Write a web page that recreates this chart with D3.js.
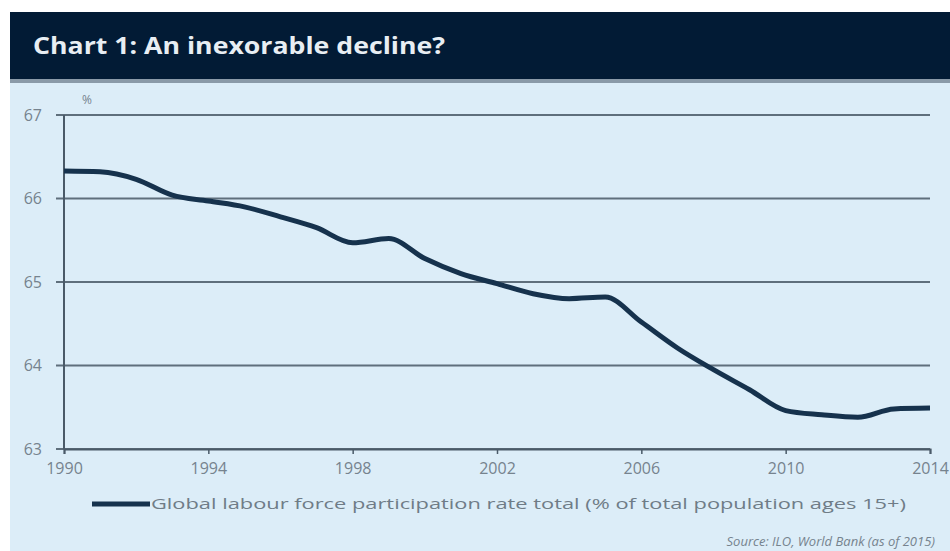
<!DOCTYPE html>
<html>
<head>
<meta charset="utf-8">
<script src="https://cdn.jsdelivr.net/npm/d3@7"></script>
<style>
  html, body { margin: 0; padding: 0; background: #ffffff; }
  svg { display: block; }
</style>
</head>
<body>
<div id="chart"></div>
<script>
// Dados (taxa de participação, % pop. 15+)
const years = [1990, 1991, 1992, 1993, 1994, 1995, 1996, 1997, 1998, 1999,
  2000, 2001, 2002, 2003, 2004, 2005, 2006, 2007, 2008, 2009,
  2010, 2011, 2012, 2013, 2014];
const rate = [66.33, 66.32, 66.23, 66.04, 65.97, 65.90, 65.78, 65.65, 65.47, 65.52,
  65.28, 65.10, 64.98, 64.86, 64.80, 64.82, 64.52, 64.21, 63.95, 63.71,
  63.46, 63.41, 63.38, 63.48, 63.49];
const yTicks = [63, 64, 65, 66, 67];
const xTicks = [1990, 1994, 1998, 2002, 2006, 2010, 2014];
const titulo = "Chart 1: An inexorable decline?";
const legenda = "Global labour force participation rate total (% of total population ages 15+)";
const fonte = "Source: ILO, World Bank (as of 2015)";

const W = 950, H = 551;
const font = "'Open Sans', 'DejaVu Sans', sans-serif";

const svg = d3.select("#chart").append("svg")
  .attr("width", W).attr("height", H);

// fundo
svg.append("rect").attr("x", 10).attr("y", 80).attr("width", W - 10).attr("height", H - 80)
  .attr("fill", "#dcedf8");
svg.append("rect").attr("x", 10).attr("y", 12).attr("width", W - 10).attr("height", 68)
  .attr("fill", "#021b35");
svg.append("rect").attr("x", 10).attr("y", 79).attr("width", W - 10).attr("height", 4)
  .attr("fill", "#8a9aa8");

svg.append("text")
  .attr("x", 33).attr("y", 54)
  .attr("font-family", font).attr("font-weight", "bold")
  .attr("font-size", "24px").attr("fill", "#e8eef3")
  .attr("textLength", 412).attr("lengthAdjust", "spacingAndGlyphs")
  .text(titulo);

const x = d3.scaleLinear().domain([1990, 2014]).range([64, 930]);
const y = d3.scaleLinear().domain([63, 67]).range([449, 115]);

// grade horizontal
svg.append("g")
  .selectAll("line")
  .data(yTicks)
  .join("line")
  .attr("x1", 56).attr("x2", 930)
  .attr("y1", d => y(d)).attr("y2", d => y(d))
  .attr("stroke", "#5f6f7c").attr("stroke-width", 2);

// eixo y
svg.append("line")
  .attr("x1", 64).attr("x2", 64).attr("y1", y(67)).attr("y2", y(63))
  .attr("stroke", "#4a5a68").attr("stroke-width", 2);

svg.append("g")
  .selectAll("text")
  .data(yTicks)
  .join("text")
  .attr("x", 42).attr("y", d => y(d))
  .attr("dy", "0.35em")
  .attr("text-anchor", "end")
  .attr("font-family", font).attr("font-size", "16px")
  .attr("fill", "#76838e")
  .text(d => d);

svg.append("text")
  .attr("x", 82).attr("y", 104)
  .attr("font-family", font).attr("font-size", "12px")
  .attr("fill", "#76838e")
  .text("%");

// eixo x
const xAxis = svg.append("g")
  .attr("transform", `translate(0,${y(63)})`)
  .call(d3.axisBottom(x).tickValues(xTicks).tickFormat(d3.format("d")).tickSize(5).tickPadding(9));
xAxis.select(".domain").attr("stroke", "#4a5a68").attr("stroke-width", 2);
xAxis.selectAll(".tick line").attr("stroke", "#4a5a68").attr("stroke-width", 1.5);
xAxis.selectAll(".tick text")
  .attr("font-family", font).attr("font-size", "16px")
  .attr("fill", "#76838e");

// série
const line = d3.line()
  .x((d, i) => x(years[i]))
  .y(d => y(d))
  .curve(d3.curveMonotoneX);

svg.append("path")
  .datum(rate)
  .attr("fill", "none")
  .attr("stroke", "#16324d")
  .attr("stroke-width", 5)
  .attr("stroke-linejoin", "round")
  .attr("d", line);

// legenda
svg.append("line")
  .attr("x1", 92).attr("x2", 150).attr("y1", 504).attr("y2", 504)
  .attr("stroke", "#16324d").attr("stroke-width", 5);
svg.append("text")
  .attr("x", 151).attr("y", 504).attr("dy", "0.35em")
  .attr("font-family", font).attr("font-size", "15px")
  .attr("fill", "#6f7c87")
  .attr("textLength", 755).attr("lengthAdjust", "spacingAndGlyphs")
  .text(legenda);

svg.append("text")
  .attr("x", 935).attr("y", 541).attr("dy", "0.35em")
  .attr("text-anchor", "end")
  .attr("font-family", font).attr("font-size", "13px")
  .attr("font-style", "italic")
  .attr("fill", "#76838e")
  .text(fonte);
</script>
</body>
</html>
